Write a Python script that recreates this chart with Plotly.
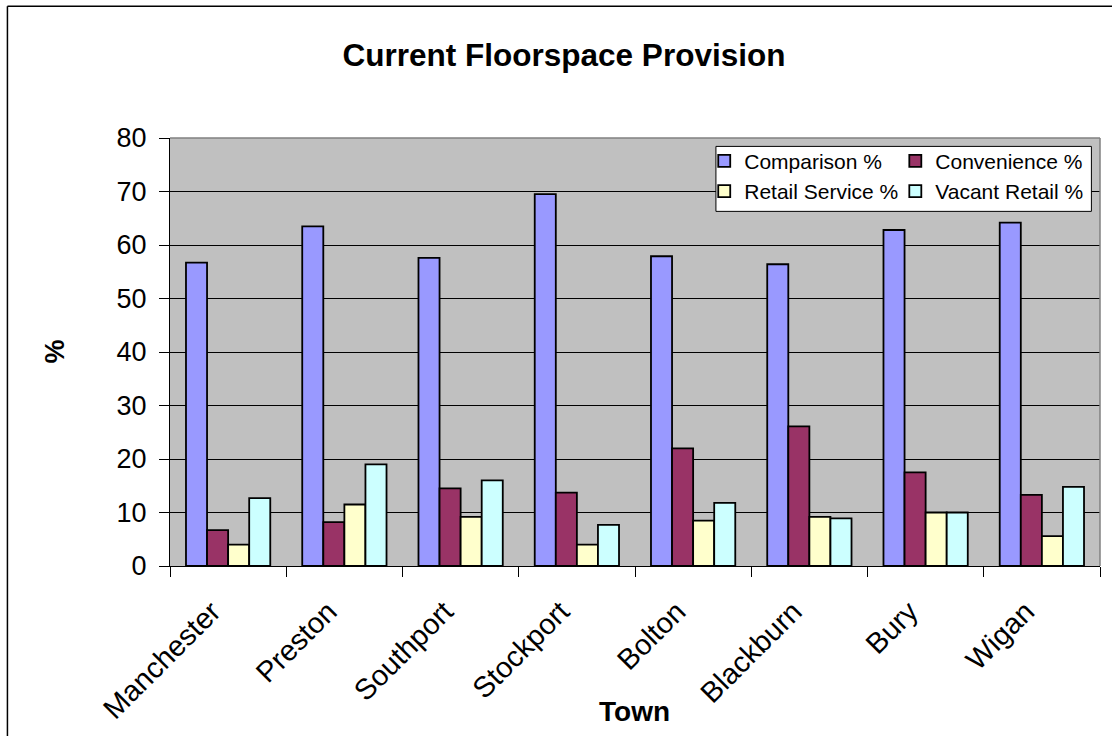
import plotly.graph_objects as go

towns = ["Manchester", "Preston", "Southport", "Stockport", "Bolton", "Blackburn", "Bury", "Wigan"]
comparison = [56.7, 63.5, 57.6, 69.5, 57.9, 56.4, 62.8, 64.2]
convenience = [6.7, 8.2, 14.5, 13.7, 22.0, 26.1, 17.5, 13.3]
retail_service = [4.0, 11.5, 9.2, 4.0, 8.5, 9.2, 10.0, 5.6]
vacant_retail = [12.7, 19.0, 16.0, 7.7, 11.8, 8.9, 10.0, 14.8]
y_ticks = [0, 10, 20, 30, 40, 50, 60, 70, 80]

FONT = "Liberation Sans, Arial, sans-serif"

series = [
    ("Comparison %", comparison, "#9999FF", "legend"),
    ("Convenience %", convenience, "#993366", "legend2"),
    ("Retail Service %", retail_service, "#FFFFCC", "legend"),
    ("Vacant Retail %", vacant_retail, "#CCFFFF", "legend2"),
]

fig = go.Figure()
for name, vals, color, leg in series:
    fig.add_trace(go.Bar(
        x=towns, y=vals, name=name, legend=leg,
        marker=dict(color=color, line=dict(color="black", width=1.8)),
    ))

W, H = 1112, 736
L, R, T, B = 170, 12.4, 138.3, 169.5
pw, ph = W - L - R, H - T - B

def px_x(p):
    return (p - L) / pw

def px_y(p):
    return (H - B - p) / ph

fig.update_layout(
    width=W, height=H,
    margin=dict(l=L, r=R, t=T, b=B, pad=0, autoexpand=False),
    paper_bgcolor="white",
    plot_bgcolor="#C0C0C0",
    barmode="group",
    bargap=0.275,
    bargroupgap=0,
    font=dict(family=FONT, color="black"),
    title=dict(
        text="<b>Current Floorspace Provision</b>",
        font=dict(size=31.5, family=FONT, color="black"),
        x=564 / W, xref="container", xanchor="center",
        y=1 - 55 / H, yref="container", yanchor="middle",
    ),
    legend=dict(
        orientation="v", x=px_x(704), xanchor="left", y=px_y(141), yanchor="top",
        bgcolor="rgba(0,0,0,0)", borderwidth=0,
        font=dict(size=21, family=FONT, color="black"),
        tracegroupgap=0,
    ),
    legend2=dict(
        orientation="v", x=px_x(895), xanchor="left", y=px_y(141), yanchor="top",
        bgcolor="rgba(0,0,0,0)", borderwidth=0,
        font=dict(size=21, family=FONT, color="black"),
        tracegroupgap=0,
    ),
    xaxis=dict(
        type="category",
        tickson="boundaries",
        ticks="outside", ticklen=10, tickcolor="black", tickwidth=1,
        showline=True, linecolor="black", linewidth=1,
        showgrid=False,
        tickangle=-45,
        ticklabelstandoff=16,
        ticklabelshift=-16,
        tickfont=dict(size=29, family=FONT, color="black"),
    ),
    yaxis=dict(
        range=[0, 80],
        tickvals=y_ticks,
        ticks="outside", ticklen=10, tickcolor="black", tickwidth=1,
        showline=True, linecolor="black", linewidth=1,
        showgrid=True, gridcolor="black", gridwidth=1,
        zeroline=False,
        ticklabelstandoff=7,
        tickfont=dict(size=27, family=FONT, color="black"),
    ),
    showlegend=True,
)

shapes = [
    # plot-area top and right border (grey)
    dict(type="line", xref="x domain", yref="y domain", x0=0, x1=1, y0=1, y1=1,
         line=dict(color="#808080", width=1.5), layer="above"),
    dict(type="line", xref="x domain", yref="y domain", x0=1, x1=1, y0=0, y1=1,
         line=dict(color="#808080", width=1.5), layer="above"),
    # legend box
    dict(type="rect", xref="paper", yref="paper",
         x0=px_x(715.7), x1=px_x(1091), y0=px_y(211.7), y1=px_y(146.7),
         fillcolor="white", line=dict(color="black", width=1), layer="above"),
    # chart outer border (top and left visible)
    dict(type="line", xref="paper", yref="paper",
         x0=px_x(7.5), x1=px_x(1112), y0=px_y(6.5), y1=px_y(6.5),
         line=dict(color="black", width=1.5)),
    dict(type="line", xref="paper", yref="paper",
         x0=px_x(7.5), x1=px_x(7.5), y0=px_y(6.5), y1=px_y(740),
         line=dict(color="black", width=1.5)),
]
fig.update_layout(shapes=shapes)

fig.add_annotation(
    text="<b>%</b>", xref="paper", yref="paper",
    x=px_x(55), y=px_y(352), xanchor="center", yanchor="middle",
    textangle=-90, showarrow=False,
    font=dict(size=27, family=FONT, color="black"),
)
fig.add_annotation(
    text="<b>Town</b>", xref="paper", yref="paper",
    x=px_x(634.7), y=px_y(711.7), xanchor="center", yanchor="middle",
    showarrow=False,
    font=dict(size=28, family=FONT, color="black"),
)

fig.write_html("out.html")
